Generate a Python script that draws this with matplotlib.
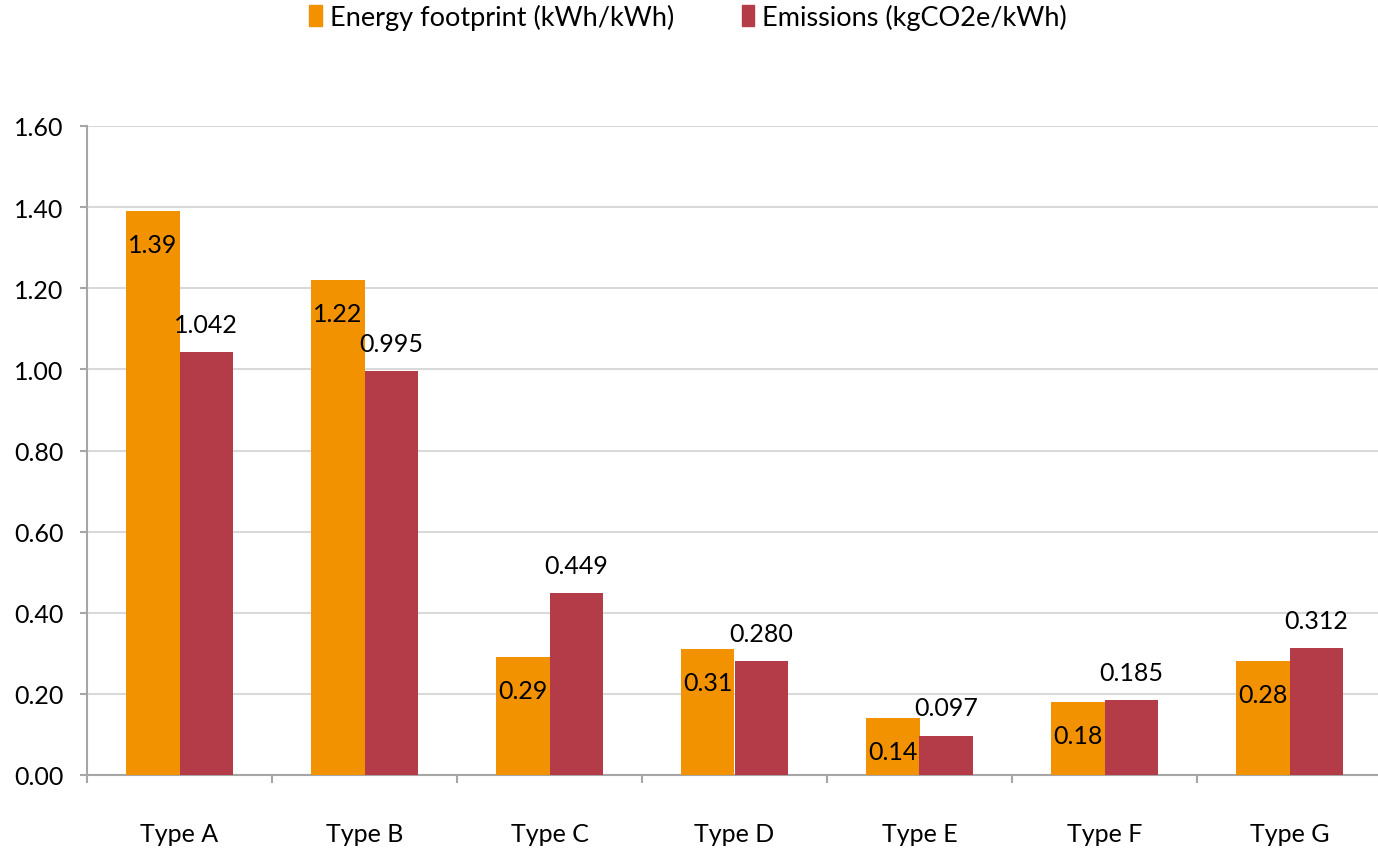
import matplotlib
matplotlib.use("Agg")
import matplotlib.pyplot as plt
from matplotlib.patches import Patch
from matplotlib.ticker import FixedLocator, FormatStrFormatter
import numpy as np

categories = ["Type A", "Type B", "Type C", "Type D", "Type E", "Type F", "Type G"]
energy = [1.39, 1.22, 0.29, 0.31, 0.14, 0.18, 0.28]
emissions = [1.042, 0.995, 0.449, 0.280, 0.097, 0.185, 0.312]
energy_labels = ["1.39", "1.22", "0.29", "0.31", "0.14", "0.18", "0.28"]
emission_labels = ["1.042", "0.995", "0.449", "0.280", "0.097", "0.185", "0.312"]
series_names = ["Energy footprint (kWh/kWh)", "Emissions (kgCO2e/kWh)"]

ORANGE = "#F39200"
RED = "#B33C48"
AXIS_GREY = "#A6A6A6"
GRID_GREY = "#D9D9D9"

plt.rcParams["font.family"] = ["Lato", "DejaVu Sans"]

fig = plt.figure(figsize=(13.78, 8.53), dpi=100)
ax = fig.add_axes([87 / 1378, 1 - 776 / 853, (1382 - 87) / 1378, (776 - 127) / 853])

x = np.arange(len(categories))
w = 0.29
b1 = ax.bar(x - w / 2, energy, width=w, color=ORANGE, zorder=3)
b2 = ax.bar(x + w / 2, emissions, width=w, color=RED, zorder=3)

fs = 18
for rect, lab in zip(b1, energy_labels):
    ax.annotate(lab, (rect.get_x() + rect.get_width() / 2, rect.get_height()),
                xytext=(0, -24), textcoords="offset points",
                ha="center", va="center", fontsize=fs, color="black", zorder=4)
for rect, lab in zip(b2, emission_labels):
    ax.annotate(lab, (rect.get_x() + rect.get_width() / 2, rect.get_height()),
                xytext=(0, 20), textcoords="offset points",
                ha="center", va="center", fontsize=fs, color="black", zorder=4)

ax.set_xlim(-0.5, len(categories) - 0.5)
ax.set_ylim(0, 1.6)
ax.set_yticks(np.arange(0, 1.61, 0.2))
ax.yaxis.set_major_formatter(FormatStrFormatter("%.2f"))
ax.grid(axis="y", color=GRID_GREY, linewidth=1.5, zorder=0)

ax.set_xticks(x)
ax.set_xticklabels(categories)
ax.xaxis.set_minor_locator(FixedLocator(np.arange(-0.5, len(categories), 1.0)))
ax.tick_params(axis="x", which="major", length=0, pad=34, labelsize=fs)
ax.tick_params(axis="x", which="minor", length=6, width=1.5, color=AXIS_GREY, direction="out")
ax.tick_params(axis="y", length=5, width=1.5, color=AXIS_GREY, pad=12, labelsize=fs)

for side in ["top", "right"]:
    ax.spines[side].set_visible(False)
for side in ["left", "bottom"]:
    ax.spines[side].set_color(AXIS_GREY)
    ax.spines[side].set_linewidth(1.5)

handles = [Patch(color=ORANGE), Patch(color=RED)]
fig.legend(handles, series_names, loc="center", bbox_to_anchor=(688 / 1378, 1 - 18 / 853),
           ncol=2, frameon=False, fontsize=19.5, handlelength=0.45, handleheight=0.8,
           handletextpad=0.3, columnspacing=2.5)

fig.savefig("out.png", dpi=100)
